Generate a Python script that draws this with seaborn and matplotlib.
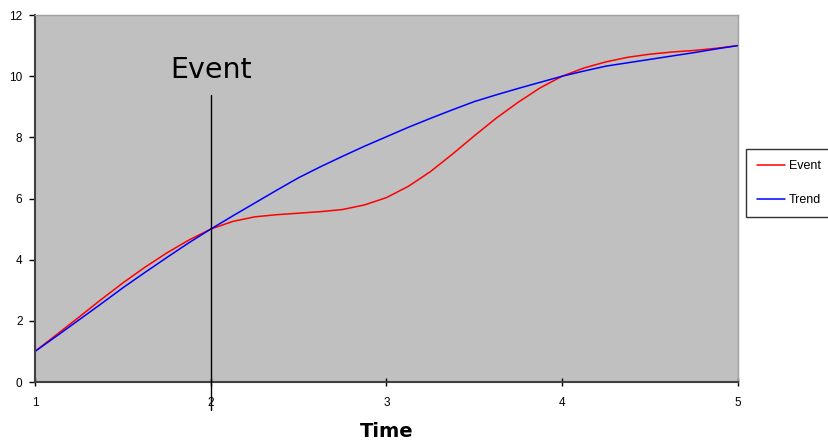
import numpy as np
import pandas as pd
import matplotlib
matplotlib.use("Agg")
import matplotlib.pyplot as plt
import seaborn as sns

# Data
time = [1.0, 1.125, 1.25, 1.375, 1.5, 1.625, 1.75, 1.875, 2.0, 2.125, 2.25, 2.375, 2.5, 2.625,
        2.75, 2.875, 3.0, 3.125, 3.25, 3.375, 3.5, 3.625, 3.75, 3.875, 4.0, 4.125, 4.25, 4.375,
        4.5, 4.625, 4.75, 4.875, 5.0]
event = [1.0, 1.56, 2.12, 2.69, 3.24, 3.75, 4.22, 4.64, 5.0, 5.25, 5.40, 5.47, 5.52, 5.57,
         5.64, 5.79, 6.03, 6.40, 6.88, 7.45, 8.05, 8.63, 9.15, 9.62, 10.0, 10.27, 10.47, 10.62,
         10.72, 10.79, 10.84, 10.91, 11.0]
trend = [1.0, 1.51, 2.03, 2.55, 3.08, 3.58, 4.07, 4.55, 5.0, 5.43, 5.85, 6.27, 6.68, 7.04,
         7.38, 7.71, 8.02, 8.33, 8.62, 8.90, 9.17, 9.39, 9.60, 9.80, 10.0, 10.17, 10.33, 10.44,
         10.55, 10.66, 10.77, 10.89, 11.0]
series_names = ["Event", "Trend"]
series_colors = ["#FF0000", "#0000FF"]
xticks = [1, 2, 3, 4, 5]
yticks = [0, 2, 4, 6, 8, 10, 12]
event_x = 2.0
event_label = "Event"
xlabel = "Time"

df = pd.DataFrame({
    "Time": time * 2,
    "Value": event + trend,
    "Series": ["Event"] * len(time) + ["Trend"] * len(time),
})

sns.set_style("white")
plt.rcParams["font.family"] = ["Liberation Sans", "DejaVu Sans"]
plt.rcParams["text.color"] = "black"
plt.rcParams["axes.labelcolor"] = "black"
plt.rcParams["xtick.color"] = "black"
plt.rcParams["ytick.color"] = "black"

W, H = 829, 440
fig = plt.figure(figsize=(W / 100, H / 100), dpi=100)
ax = fig.add_axes([35 / W, (H - 382) / H, (738 - 35) / W, (382 - 15) / H])
ax.set_facecolor("#C0C0C0")

sns.lineplot(data=df, x="Time", y="Value", hue="Series", hue_order=series_names,
             palette=series_colors, estimator=None, sort=False, linewidth=1.1, ax=ax)

ax.set_xlim(1, 5)
ax.set_ylim(0, 12)
ax.set_xticks(xticks)
ax.set_yticks(yticks)
ax.set_xticklabels([str(v) for v in xticks])
ax.set_yticklabels([str(v) for v in yticks])
ax.tick_params(axis="y", direction="out", length=4, width=1, colors="black", labelsize=8.5, pad=5, left=True)
ax.tick_params(axis="x", direction="inout", length=6, width=1, colors="black", labelsize=8.5, pad=8, bottom=True)

for s in ["left", "bottom"]:
    ax.spines[s].set_color("#404040")
    ax.spines[s].set_linewidth(1.5)
for s in ["top", "right"]:
    ax.spines[s].set_color("#A0A0A0")
    ax.spines[s].set_linewidth(1.0)

ax.set_xlabel(xlabel, fontsize=14, fontweight="bold", family="DejaVu Sans", labelpad=9, color="black")
ax.set_ylabel("")

# Event marker line (extends below the axis)
ax.plot([event_x, event_x], [-0.92, 9.38], color="black", linewidth=1.0, clip_on=False, zorder=5)
ax.text(event_x, 9.93, event_label, ha="center", va="baseline", fontsize=20.5,
        family="DejaVu Sans", color="black")

ax.get_legend().remove()
handles = ax.get_lines()[:2]
leg = fig.legend(handles, series_names, loc="upper left",
                 bbox_to_anchor=(745.5 / W, 1 - 149 / H), bbox_transform=fig.transFigure,
                 fontsize=9, frameon=True, fancybox=False, handlelength=2.25,
                 handletextpad=0.3, labelspacing=1.75, borderpad=0.9, borderaxespad=0)
leg.get_frame().set_edgecolor("black")
leg.get_frame().set_linewidth(1.0)
leg.get_frame().set_facecolor("white")
for t in leg.get_texts():
    t.set_color("black")

fig.savefig("out.png", dpi=100)
